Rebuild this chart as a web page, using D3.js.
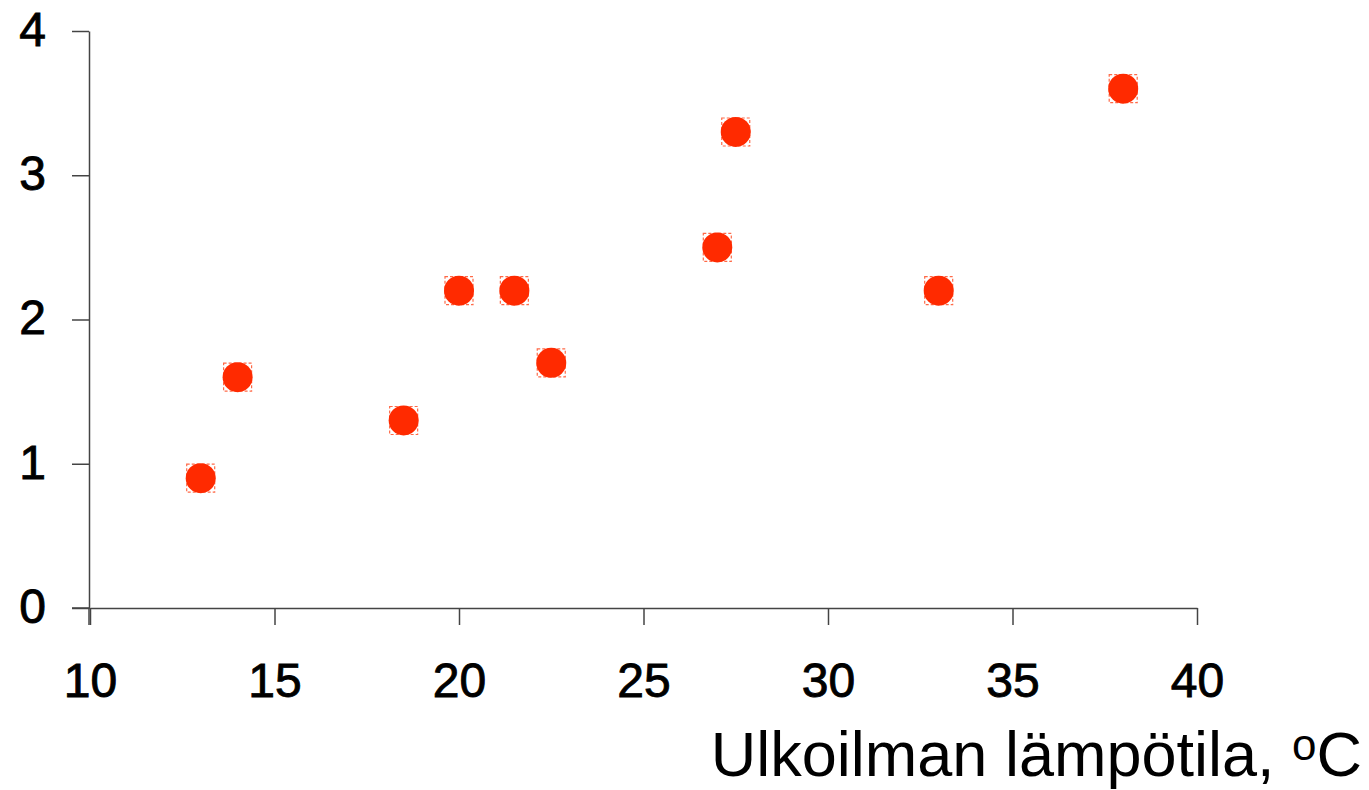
<!DOCTYPE html>
<html>
<head>
<meta charset="utf-8">
<script src="https://cdn.jsdelivr.net/npm/d3@7"></script>
<style>
  html, body { margin: 0; padding: 0; background: #fff; }
  svg { display: block; }
  text { font-family: "Liberation Sans", Arial, sans-serif; fill: #000; }
</style>
</head>
<body>
<svg id="chart" width="1369" height="790"></svg>
<script>
const temperature = [13, 14, 18.5, 20, 21.5, 22.5, 27, 27.5, 33, 38];
const values = [0.9, 1.6, 1.3, 2.2, 2.2, 1.7, 2.5, 3.3, 2.2, 3.6];
const xTicks = [10, 15, 20, 25, 30, 35, 40];
const yTicks = [0, 1, 2, 3, 4];
const xTitle = "Ulkoilman lämpötila, ";

const svg = d3.select("#chart");
const x = d3.scaleLinear().domain([10, 40]).range([90, 1197]);
const y = d3.scaleLinear().domain([0, 4]).range([608, 31]);

const axisColor = "#444";

const xAxis = svg.append("g")
  .attr("transform", `translate(0,${y(0)})`)
  .call(d3.axisBottom(x).tickValues(xTicks).tickSize(17).tickSizeOuter(0).tickPadding(38).tickFormat(d3.format("d")));
xAxis.select(".domain").attr("stroke", axisColor).attr("stroke-width", 1.5);
xAxis.selectAll(".tick line").attr("stroke", axisColor).attr("stroke-width", 1.5);
xAxis.selectAll(".tick text").attr("font-size", 48).attr("fill", "#000")
  .attr("stroke", "#000").attr("stroke-width", 0.9)
  .attr("font-family", "Liberation Sans, Arial, sans-serif");

const yAxis = svg.append("g")
  .attr("transform", `translate(${x(10) - 1},0)`)
  .call(d3.axisLeft(y).tickValues(yTicks).tickSize(17).tickSizeOuter(0).tickPadding(26).tickFormat(d3.format("d")));
yAxis.select(".domain").attr("stroke", axisColor).attr("stroke-width", 1.5);
yAxis.selectAll(".tick line").attr("stroke", axisColor).attr("stroke-width", 1.5);
yAxis.selectAll(".tick text").attr("font-size", 48).attr("fill", "#000")
  .attr("stroke", "#000").attr("stroke-width", 0.9)
  .attr("font-family", "Liberation Sans, Arial, sans-serif")
  .attr("dy", "0.3em");

// extend y axis line down to tick length below x axis
svg.append("line")
  .attr("x1", x(10) - 1).attr("x2", x(10) - 1)
  .attr("y1", y(0)).attr("y2", y(0) + 17)
  .attr("stroke", axisColor).attr("stroke-width", 1.5);
// extend x axis left to tick length
svg.append("line")
  .attr("x1", x(10) - 18).attr("x2", x(10))
  .attr("y1", y(0)).attr("y2", y(0))
  .attr("stroke", axisColor).attr("stroke-width", 1.5);

const data = temperature.map((t, i) => ({ t, v: values[i] }));
const pts = svg.append("g");
pts.selectAll("rect").data(data).enter().append("rect")
  .attr("x", d => x(d.t) - 14).attr("y", d => y(d.v) - 14)
  .attr("width", 28).attr("height", 28)
  .attr("fill", "none").attr("stroke", "#ff6a48").attr("stroke-width", 1.2)
  .attr("stroke-dasharray", "3,2");
pts.selectAll("circle").data(data).enter().append("circle")
  .attr("cx", d => x(d.t)).attr("cy", d => y(d.v)).attr("r", 15)
  .attr("fill", "#ff2a00");

const title = svg.append("text")
  .attr("x", 1362).attr("y", 776)
  .attr("text-anchor", "end")
  .attr("font-size", 63);
title.append("tspan").text(xTitle);
title.append("tspan").attr("font-size", 44).attr("dy", -16).text("o");
title.append("tspan").attr("dy", 16).text("C");
</script>
</body>
</html>
